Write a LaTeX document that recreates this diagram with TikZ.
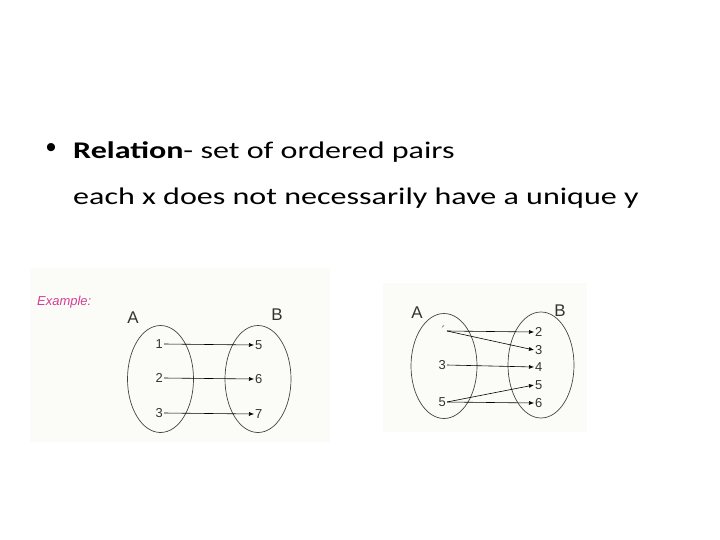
\documentclass[tikz,border=0pt]{standalone}
\usepackage{fontspec}
\setmainfont{Carlito}[FakeStretch=1.34]
\newfontfamily\arialf{Liberation Sans}
\usetikzlibrary{arrows.meta,shapes.geometric}
\definecolor{imgbg}{HTML}{FBFCF8}
\definecolor{exmag}{HTML}{D63C94}
\definecolor{ellcol}{HTML}{444444}
\begin{document}
\begin{tikzpicture}[x=1bp,y=-1bp,
  title/.style={inner sep=0pt, anchor=base west, font=\fontsize{24}{28}\selectfont},
  setell/.style={draw=ellcol, line width=0.7pt, ellipse, minimum width=66bp, minimum height=107bp, inner sep=0pt},
  elem/.style={font=\arialf\fontsize{13}{14}\selectfont, inner sep=1pt, text=black!80},
  setname/.style={font=\arialf\fontsize{17}{19}\selectfont, inner sep=0pt, text=black!80},
  mapar/.style={-{Latex[length=5bp,width=4bp]}, line width=0.6pt, black},
  picbg/.style={fill=imgbg, draw=none}]
\useasboundingbox (0,0) rectangle (720,540);
\fill[white] (0,0) rectangle (720,540);
% title
\node[inner sep=0pt, font=\arialf\fontsize{30}{34}\selectfont] (bul) at (51,151) {\textbullet};
\node[title] (l1) at (73,159) {\textbf{Relation}- set of ordered pairs};
\node[title] (l2) at (73,205) {each x does not necessarily have a unique y};
% left picture
\fill[picbg] (30,268) rectangle (330,442);
\node[font=\arialf\itshape\fontsize{13}{14}\selectfont, text=exmag, inner sep=0pt, anchor=west] (ex) at (37,302) {Example:};
\node[setname] (A1) at (133,318) {A};
\node[setname] (B1) at (277,315) {B};
\node[setell] (EA1) at (160.5,379) {};
\node[setell] (EB1) at (258,379) {};
\node[elem, anchor=east] (a1) at (164,344) {1};
\node[elem, anchor=east] (a2) at (164,378) {2};
\node[elem, anchor=east] (a3) at (164,413) {3};
\node[elem, anchor=west] (b1) at (254,345) {5};
\node[elem, anchor=west] (b2) at (254,379) {6};
\node[elem, anchor=west] (b3) at (254,414) {7};
\draw[mapar] (a1.east) -- (b1.west);
\draw[mapar] (a2.east) -- (b2.west);
\draw[mapar] (a3.east) -- (b3.west);
% right picture
\fill[picbg] (383,283) rectangle (587,432);
\node[setname] (A2) at (417,313) {A};
\node[setname] (B2) at (560,311) {B};
\node[setell, minimum height=105bp] (EA2) at (444,366) {};
\node[setell, minimum height=106bp] (EB2) at (541,365) {};
\node[elem, anchor=east, text=black!60] (c1) at (447,331) {\textasciiacute};
\node[elem, anchor=east] (c3) at (447,365) {3};
\node[elem, anchor=east] (c5) at (447,402) {5};
\node[elem, anchor=west] (d2) at (534,332) {2};
\node[elem, anchor=west] (d3) at (534,350) {3};
\node[elem, anchor=west] (d4) at (534,367) {4};
\node[elem, anchor=west] (d5) at (534,385) {5};
\node[elem, anchor=west] (d6) at (534,403) {6};
\draw[mapar] (c1.east) -- (d2.west);
\draw[mapar] (c1.east) -- (d3.west);
\draw[mapar] (c3.east) -- (d4.west);
\draw[mapar] (c5.east) -- (d5.west);
\draw[mapar] (c5.east) -- (d6.west);
\end{tikzpicture}
\end{document}
